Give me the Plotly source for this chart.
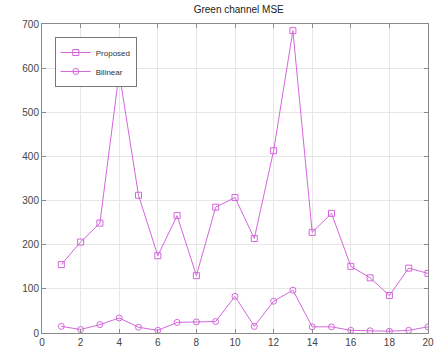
import plotly.graph_objects as go

x = list(range(1, 21))
proposed = [155, 206, 249, 590, 312, 175, 266, 130, 285, 307, 214, 413, 685, 228, 271, 151, 125, 85, 147, 135]
bilinear = [15, 8, 19, 34, 13, 6, 24, 25, 26, 83, 15, 72, 97, 14, 14, 6, 5, 4, 6, 14]
x_ticks = list(range(0, 21, 2))
y_ticks = list(range(0, 701, 100))

col = "#d466dc"
fig = go.Figure()
fig.add_trace(go.Scatter(x=x, y=proposed, name="Proposed", mode="lines+markers",
                         line=dict(color=col, width=1),
                         marker=dict(symbol="square-open", size=6, color=col, line=dict(width=1))))
fig.add_trace(go.Scatter(x=x, y=bilinear, name="Bilinear", mode="lines+markers",
                         line=dict(color=col, width=1),
                         marker=dict(symbol="circle-open", size=6, color=col, line=dict(width=1))))

axis_common = dict(showline=True, linecolor="#8a8a8a", linewidth=1, mirror="ticks",
                   ticks="inside", ticklen=4, tickcolor="#8a8a8a",
                   showgrid=True, gridcolor="#e6e6e6", gridwidth=1, zeroline=False,
                   ticklabeloverflow="allow",
                   tickfont=dict(family="Liberation Sans, Arial", size=10, color="#444"))
fig.update_xaxes(range=[0, 20.0001], tickvals=x_ticks, **axis_common)
fig.update_yaxes(range=[0, 700.0001], tickvals=y_ticks, **axis_common)

fig.update_layout(
    width=438, height=356,
    margin=dict(l=42, r=4, t=24, b=23),
    paper_bgcolor="white", plot_bgcolor="white",
    title=dict(text="Green channel MSE", x=0.545, xanchor="center", y=0.972, yanchor="middle",
               font=dict(family="Liberation Sans, Arial", size=10, color="#222")),
    legend=dict(x=0.033, y=0.958, xanchor="left", yanchor="top",
                bgcolor="white", bordercolor="#777", borderwidth=1,
                font=dict(family="Liberation Sans, Arial", size=8, color="#333"),
                itemwidth=30, tracegroupgap=0),
    showlegend=True,
)
fig.write_html("out.html")
